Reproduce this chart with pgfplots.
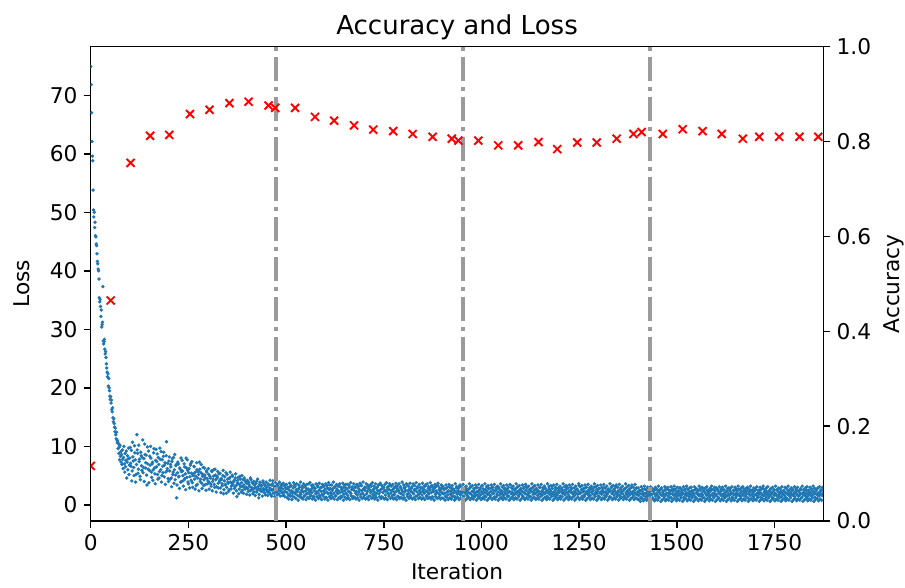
\documentclass[border=0pt]{standalone}
\usepackage{fontspec}
\setmainfont{DejaVu Sans}
\usepackage{pgfplots}
\pgfplotsset{compat=1.18}
\definecolor{mplblue}{HTML}{1F77B4}
\definecolor{vgray}{RGB}{155,155,155}
\begin{document}
\begin{tikzpicture}
\pgfplotsset{
  every axis/.append style={
    width=388.3pt, height=251.4pt, scale only axis,
    xmin=0, xmax=1875,
    axis line style={line width=0.8pt},
    every tick/.style={line width=0.8pt, black},
    major tick length=3.5pt,
    tick align=outside,
    clip marker paths=true,
    /pgf/number format/assume math mode=true,
    /pgf/number format/1000 sep={},
    tick label style={font=\fontsize{11.5}{13}\selectfont},
    label style={font=\fontsize{11.5}{13}\selectfont},
  },
  lossmark/.style={only marks, color=mplblue, mark=*, mark size=0.7pt, mark options={draw=none, fill=mplblue}},
  epochline/.style={vgray, line width=2pt, dash pattern=on 12.8pt off 3.2pt on 2pt off 3.2pt},
}
\begin{axis}[
  xtick pos=bottom, ytick pos=left,
  ymin=-2.75, ymax=78.3,
  xtick={0,250,...,1750},
  ytick={0,10,...,70},
  xlabel={Iteration}, ylabel={Loss},
  xlabel style={yshift=0.5pt},
  ylabel shift=4pt,
  title={Accuracy and Loss},
  title style={font=\fontsize{13.8}{16}\selectfont, yshift=-6pt},
]
\addplot[lossmark] coordinates {
(0,74.9)(1,71.8)(2,67.0)(3,62.1)(4,59.6)(5,58.8)(6,53.8)(7,50.4)(8,49.2)(9,50.0)
(10,47.4)(11,48.3)(12,46.0)(13,45.8)(14,44.6)(15,44.3)(16,42.9)(17,41.6)(18,41.2)(19,40.3)
(20,40.0)(21,38.6)(22,35.4)(23,34.7)(24,35.1)(25,33.9)(26,32.2)(27,33.3)(28,30.4)(29,30.8)
(30,31.2)(31,37.3)(32,28.0)(33,27.5)(34,27.9)(35,28.3)(36,26.6)(37,25.8)(38,26.2)(39,25.2)
(40,24.1)(41,23.4)(42,22.7)(43,21.9)(44,22.4)(45,20.3)(46,21.6)(47,20.0)(48,19.5)(49,18.6)
(50,18.0)(51,18.5)(52,17.4)(53,17.9)(54,16.3)(55,15.9)(56,16.6)(57,14.9)(58,14.2)(59,14.7)
(60,13.9)(61,13.3)(62,12.5)(63,13.1)(64,12.0)(65,11.3)(66,12.4)(67,11.1)(68,10.6)(69,10.9)
(70,9.6)(71,10.5)(72,8.8)(73,9.9)(74,7.7)(75,10.2)(76,8.3)(77,9.1)(78,7.3)(79,8.6)
(80,6.9)(81,9.4)(82,7.8)(83,6.2)(84,8.1)(85,10.0)(86,7.0)(87,5.6)(88,8.8)(89,6.5)
(90,7.6)(91,9.2)(92,4.6)(93,7.3)(94,8.4)(95,6.0)(96,7.9)(97,9.7)(98,5.2)(99,6.8)(100,8.0)
(102,7.1)(104,9.3)(106,5.8)(108,8.2)(110,6.4)(112,10.1)(114,7.7)(116,5.2)(118,12.0)(120,8.8)
(122,6.1)(124,7.4)(126,4.9)(128,9.0)(130,6.7)(132,8.1)(134,5.5)(136,7.9)(138,10.4)(140,6.3)
(142,8.5)(144,3.4)(146,7.0)(148,9.2)(150,5.9)(152,6.8)(154,8.0)(156,4.7)(158,7.3)(160,6.0)
(162,9.6)(164,5.3)(166,7.6)(168,6.5)(170,8.7)(172,4.4)(174,6.9)(176,5.7)(178,7.8)(180,9.1)
(182,5.0)(184,6.6)(186,8.3)(188,4.8)(190,7.2)(192,5.6)(194,10.8)(196,6.2)(198,4.5)(200,7.5)
(202,5.8)(204,6.9)(206,4.6)(208,7.4)(210,5.2)(212,8.1)(214,6.0)(216,4.3)(218,6.7)(220,1.2)
(222,5.5)(224,7.0)(226,4.9)(228,6.3)(230,3.9)(232,5.7)(234,7.6)(236,5.0)(238,4.2)(240,6.5)
(242,5.3)(244,8.0)(246,4.7)(248,5.9)(250,3.6)(252,6.2)(254,4.8)(256,7.1)(258,5.4)(260,3.8)
(262,5.0)(264,6.6)(266,4.4)(268,5.6)(270,3.3)(272,6.0)(274,4.6)(276,5.2)(278,7.3)(280,4.0)
(282,5.5)(284,3.7)(286,4.9)(288,6.4)(290,4.3)(292,5.1)(294,3.5)(296,5.8)(298,4.5)(300,4.1)
(302,5.2)(304,3.8)(306,4.6)(308,3.2)(310,5.7)(312,4.0)(314,4.9)(316,3.5)(318,6.1)(320,4.3)
(322,3.1)(324,4.8)(326,3.7)(328,5.3)(330,4.2)(332,2.9)(334,4.5)(336,3.6)(338,5.0)(340,1.9)
(342,4.1)(344,3.4)(346,5.5)(348,3.0)(350,4.4)(352,3.7)(354,2.6)(356,4.7)(358,3.9)(360,3.2)
(362,5.1)(364,3.5)(366,4.0)(368,2.8)(370,4.6)(372,3.3)(374,1.4)(376,4.2)(378,3.6)(380,2.7)
(382,4.9)(384,3.1)(386,3.8)(388,2.5)(390,4.3)(392,3.4)(394,2.9)(396,4.1)(398,3.0)(400,3.7)
(402,2.8)(404,3.9)(406,3.2)(408,2.4)(410,4.3)(412,3.0)(414,2.6)(416,3.6)(418,2.2)(420,3.4)
(422,2.9)(424,4.0)(426,2.5)(428,3.1)(430,1.2)(432,3.5)(434,2.7)(436,3.2)(438,2.3)(440,3.8)
(442,2.8)(444,2.1)(446,3.3)(448,2.6)(450,3.0)(452,2.2)(454,3.6)(456,2.4)(458,2.9)(460,1.8)
(462,3.4)(464,2.5)(466,4.1)(468,2.7)(470,2.0)(472,3.1)(474,2.6)(476,2.2)(478,3.3)(480,2.8)
(482,1.9)(484,3.0)(486,2.4)(488,3.5)(490,2.1)(492,2.7)(494,1.7)(496,3.2)(498,2.3)(500,2.8)
(502,2.1)(504,2.8)(506,1.7)(508,2.5)(510,3.1)(512,2.0)(514,2.4)(516,1.5)(518,2.9)(520,2.2)
(522,3.4)(524,1.9)(526,2.6)(528,2.3)(530,1.6)(532,2.7)(534,3.0)(536,2.1)(538,1.8)(540,2.5)
(542,2.9)(544,2.2)(546,1.4)(548,3.2)(550,2.4)(552,1.9)(554,2.7)(556,2.0)(558,3.6)(560,2.3)
(562,1.7)(564,2.6)(566,2.1)(568,3.0)(570,1.5)(572,2.4)(574,2.8)(576,1.9)(578,2.2)(580,3.3)
(582,2.0)(584,2.5)(586,1.6)(588,2.9)(590,2.3)(592,1.8)(594,3.1)(596,2.4)(598,2.0)(600,2.7)
(602,1.3)(604,2.2)(606,2.9)(608,1.9)(610,2.6)(612,3.4)(614,2.1)(616,1.7)(618,2.5)(620,2.8)
(622,2.0)(624,3.0)(626,1.6)(628,2.3)(630,2.7)(632,1.9)(634,2.4)(636,3.2)(638,2.1)(640,1.5)
(642,2.6)(644,2.2)(646,2.9)(648,1.8)(650,2.4)(652,3.5)(654,2.0)(656,2.7)(658,1.6)(660,2.3)
(662,3.0)(664,2.1)(666,1.9)(668,2.6)(670,2.8)(672,1.4)(674,2.5)(676,3.1)(678,2.0)(680,2.3)
(682,1.7)(684,2.9)(686,2.2)(688,2.6)(690,1.8)(692,3.3)(694,2.4)(696,2.0)(698,2.7)(700,1.6)
(702,2.5)(704,3.0)(706,1.9)(708,2.3)(710,2.8)(712,1.5)(714,2.6)(716,2.1)(718,3.2)(720,2.4)
(722,1.8)(724,2.7)(726,2.2)(728,1.6)(730,2.9)(732,2.0)(734,2.5)(736,3.4)(738,1.9)(740,2.3)
(742,2.6)(744,1.4)(746,2.8)(748,2.1)(750,3.0)(752,2.4)(754,1.7)(756,2.5)(758,2.2)(760,2.9)
(762,1.9)(764,2.6)(766,3.3)(768,2.0)(770,2.4)(772,1.6)(774,2.7)(776,2.2)(778,1.8)(780,3.1)
(782,2.3)(784,2.8)(786,1.5)(788,2.5)(790,2.1)(792,3.0)(794,1.9)(796,2.6)(798,2.3)(800,1.7)
(802,2.9)(804,2.2)(806,2.5)(808,3.6)(810,1.8)(812,2.4)(814,2.0)(816,2.7)(818,1.6)(820,2.3)
(822,3.1)(824,2.1)(826,1.9)(828,2.6)(830,2.4)(832,1.5)(834,2.8)(836,2.2)(838,3.0)(840,1.8)
(842,2.5)(844,2.1)(846,2.9)(848,1.7)(850,2.3)(852,2.7)(854,2.0)(856,3.2)(858,2.4)(860,1.6)
(862,2.2)(864,2.8)(866,1.9)(868,2.5)(870,3.0)(872,2.1)(874,1.4)(876,2.6)(878,2.3)(880,2.9)
(882,1.8)(884,2.4)(886,2.1)(888,3.3)(890,2.0)(892,2.6)(894,1.7)(896,2.3)(898,2.8)(900,2.0)
(902,1.9)(904,2.6)(906,2.0)(908,1.5)(910,2.8)(912,2.2)(914,1.7)(916,2.4)(918,3.1)(920,1.9)
(922,2.3)(924,1.6)(926,2.7)(928,2.0)(930,2.5)(932,1.4)(934,2.2)(936,2.9)(938,1.8)(940,2.4)
(942,2.1)(944,3.2)(946,1.7)(948,2.3)(950,2.0)(952,2.6)(954,1.5)(956,2.2)(958,2.8)(960,1.9)
(962,2.4)(964,1.6)(966,2.1)(968,2.7)(970,2.0)(972,3.0)(974,1.8)(976,2.3)(978,1.5)(980,2.5)
(982,2.1)(984,1.8)(986,2.9)(988,2.2)(990,1.6)(992,2.4)(994,2.0)(996,2.7)(998,1.7)(1000,2.3)
(1002,3.3)(1004,1.9)(1006,2.2)(1008,1.5)(1010,2.6)(1012,2.0)(1014,2.4)(1016,1.8)(1018,2.8)(1020,2.1)
(1022,1.6)(1024,2.3)(1026,2.9)(1028,1.9)(1030,2.5)(1032,2.0)(1034,1.4)(1036,2.4)(1038,2.7)(1040,1.8)
(1042,2.2)(1044,3.0)(1046,1.7)(1048,2.1)(1050,2.5)(1052,1.9)(1054,2.3)(1056,1.6)(1058,2.8)(1060,2.0)
(1062,2.4)(1064,1.8)(1066,2.6)(1068,2.1)(1070,1.5)(1072,2.3)(1074,3.4)(1076,1.9)(1078,2.2)(1080,2.7)
(1082,1.7)(1084,2.0)(1086,2.5)(1088,1.9)(1090,2.9)(1092,2.2)(1094,1.6)(1096,2.4)(1098,2.0)(1100,2.6)
(1102,1.8)(1104,2.3)(1106,1.5)(1108,2.8)(1110,2.1)(1112,1.9)(1114,2.5)(1116,3.1)(1118,1.7)(1120,2.2)
(1122,2.0)(1124,2.6)(1126,1.4)(1128,2.3)(1130,2.9)(1132,1.8)(1134,2.1)(1136,2.5)(1138,1.9)(1140,2.7)
(1142,2.2)(1144,1.6)(1146,2.4)(1148,2.0)(1150,3.0)(1152,1.8)(1154,2.3)(1156,1.7)(1158,2.6)(1160,2.1)
(1162,1.9)(1164,2.8)(1166,2.2)(1168,1.5)(1170,2.4)(1172,2.0)(1174,2.7)(1176,1.8)(1178,2.3)(1180,3.2)
(1182,1.9)(1184,2.1)(1186,1.6)(1188,2.5)(1190,2.0)(1192,2.8)(1194,1.7)(1196,2.3)(1198,2.1)(1200,2.6)
(1202,1.5)(1204,2.2)(1206,2.9)(1208,1.9)(1210,2.4)(1212,2.0)(1214,1.7)(1216,2.6)(1218,2.2)(1220,3.0)
(1222,1.8)(1224,2.3)(1226,1.4)(1228,2.5)(1230,2.1)(1232,2.8)(1234,1.9)(1236,2.2)(1238,1.6)(1240,2.4)
(1242,2.0)(1244,2.7)(1246,1.8)(1248,2.3)(1250,3.3)(1252,1.9)(1254,2.1)(1256,2.6)(1258,1.5)(1260,2.2)
(1262,2.4)(1264,1.7)(1266,2.9)(1268,2.0)(1270,2.3)(1272,1.8)(1274,2.5)(1276,2.1)(1278,1.6)(1280,2.7)
(1282,2.2)(1284,1.9)(1286,2.4)(1288,3.0)(1290,1.7)(1292,2.1)(1294,2.6)(1296,1.9)(1298,2.3)(1300,1.5)
(1302,2.8)(1304,2.0)(1306,2.2)(1308,1.8)(1310,2.5)(1312,2.1)(1314,2.9)(1316,1.6)(1318,2.3)(1320,2.0)
(1322,1.8)(1324,2.6)(1326,2.2)(1328,1.4)(1330,2.4)(1332,2.9)(1334,1.9)(1336,2.1)(1338,2.5)(1340,1.7)
(1342,2.3)(1344,3.1)(1346,2.0)(1348,1.8)(1350,2.4)(1352,2.2)(1354,1.6)(1356,2.7)(1358,2.0)(1360,2.3)
(1362,1.9)(1364,2.5)(1366,1.5)(1368,2.8)(1370,2.1)(1372,1.8)(1374,2.4)(1376,2.0)(1378,2.6)(1380,1.7)
(1382,2.2)(1384,3.0)(1386,1.9)(1388,2.3)(1390,1.6)(1392,2.5)(1394,2.0)(1396,2.8)(1398,1.8)(1400,2.2)
(1402,1.6)(1404,2.3)(1406,1.9)(1408,1.3)(1410,2.5)(1412,1.8)(1414,2.1)(1416,1.5)(1418,2.7)(1420,1.9)
(1422,1.4)(1424,2.2)(1426,1.7)(1428,2.9)(1430,2.0)(1432,1.6)(1434,2.4)(1436,1.8)(1438,1.2)(1440,2.3)
(1442,1.9)(1444,2.6)(1446,1.5)(1448,2.0)(1450,1.7)(1452,2.4)(1454,1.3)(1456,2.1)(1458,1.8)(1460,2.8)
(1462,1.6)(1464,2.2)(1466,1.9)(1468,1.4)(1470,2.5)(1472,1.7)(1474,2.0)(1476,2.7)(1478,1.5)(1480,2.1)
(1482,1.8)(1484,2.4)(1486,1.2)(1488,1.9)(1490,2.3)(1492,1.6)(1494,2.6)(1496,1.8)(1498,2.1)(1500,1.4)
(1502,2.2)(1504,1.7)(1506,2.9)(1508,1.9)(1510,1.5)(1512,2.3)(1514,1.8)(1516,2.0)(1518,1.3)(1520,2.5)
(1522,1.7)(1524,2.1)(1526,1.6)(1528,2.7)(1530,1.9)(1532,1.4)(1534,2.2)(1536,1.8)(1538,2.4)(1540,1.5)
(1542,2.0)(1544,1.7)(1546,2.6)(1548,1.3)(1550,2.1)(1552,1.9)(1554,2.3)(1556,1.6)(1558,1.8)(1560,2.8)
(1562,1.5)(1564,2.0)(1566,1.7)(1568,2.4)(1570,1.2)(1572,2.2)(1574,1.9)(1576,1.6)(1578,2.5)(1580,1.8)
(1582,2.1)(1584,1.4)(1586,2.3)(1588,1.7)(1590,2.6)(1592,1.9)(1594,1.5)(1596,2.0)(1598,2.4)(1600,1.6)
(1602,1.8)(1604,2.7)(1606,1.3)(1608,2.1)(1610,1.9)(1612,2.3)(1614,1.6)(1616,1.8)(1618,2.5)(1620,1.4)
(1622,2.0)(1624,1.7)(1626,2.2)(1628,1.5)(1630,2.8)(1632,1.9)(1634,1.6)(1636,2.4)(1638,1.8)(1640,2.1)
(1642,1.3)(1644,2.0)(1646,1.7)(1648,2.5)(1650,1.9)(1652,1.5)(1654,2.2)(1656,1.8)(1658,2.6)(1660,1.6)
(1662,2.0)(1664,1.4)(1666,2.3)(1668,1.7)(1670,1.9)(1672,2.7)(1674,1.5)(1676,2.1)(1678,1.8)(1680,2.4)
(1682,1.2)(1684,1.9)(1686,2.2)(1688,1.6)(1690,2.5)(1692,1.8)(1694,2.0)(1696,1.4)(1698,2.3)(1700,1.7)
(1702,2.6)(1704,1.9)(1706,1.5)(1708,2.1)(1710,1.8)(1712,2.4)(1714,1.3)(1716,2.0)(1718,1.7)(1720,2.8)
(1722,1.6)(1724,2.2)(1726,1.9)(1728,1.4)(1730,2.3)(1732,1.8)(1734,2.0)(1736,1.5)(1738,2.5)(1740,1.7)
(1742,2.1)(1744,1.3)(1746,1.9)(1748,2.4)(1750,1.6)(1752,2.0)(1754,1.8)(1756,2.6)(1758,1.5)(1760,2.2)
(1762,1.7)(1764,1.9)(1766,2.3)(1768,1.4)(1770,2.0)(1772,1.8)(1774,2.5)(1776,1.6)(1778,2.1)(1780,1.2)
(1782,1.9)(1784,2.4)(1786,1.7)(1788,2.0)(1790,1.5)(1792,2.2)(1794,1.8)(1796,2.7)(1798,1.6)(1800,2.0)
(1802,1.4)(1804,2.3)(1806,1.9)(1808,1.7)(1810,2.4)(1812,1.5)(1814,2.1)(1816,1.8)(1818,2.6)(1820,1.3)
(1822,2.0)(1824,1.7)(1826,2.2)(1828,1.6)(1830,1.9)(1832,2.5)(1834,1.4)(1836,2.1)(1838,1.8)(1840,2.3)
(1842,1.6)(1844,2.0)(1846,1.5)(1848,2.4)(1850,1.8)(1852,2.1)(1854,1.3)(1856,1.9)(1858,2.6)(1860,1.7)
(1862,2.0)(1864,1.5)(1866,2.2)(1868,1.8)(1870,2.4)(1872,1.6)(1874,1.9)
};
\addplot[lossmark] coordinates {
(101,9.8)(103,6.6)(105,4.1)(107,10.7)(109,7.5)(111,5.0)(113,8.9)(115,3.9)(117,6.9)(119,9.4)
(121,5.4)(123,10.2)(125,7.8)(127,4.3)(129,8.4)(131,5.9)(133,11.1)(135,6.4)(137,4.0)(139,8.6)
(141,7.2)(143,5.1)(145,9.9)(147,6.1)(149,3.8)(151,8.3)(153,10.0)(155,5.6)(157,7.0)(159,4.2)
(161,8.9)(163,6.3)(165,3.6)(167,9.5)(169,7.4)(171,5.2)(173,8.1)(175,4.6)(177,9.7)(179,6.0)
(181,3.9)(183,7.7)(185,5.5)(187,9.0)(189,6.8)(191,3.5)(193,8.4)(195,5.8)(197,7.1)(199,4.0)
(201,8.2)(203,4.4)(205,6.5)(207,3.1)(209,7.9)(211,5.6)(213,3.7)(215,8.6)(217,5.1)(219,6.9)
(221,3.4)(223,7.3)(225,4.8)(227,2.8)(229,6.1)(231,8.0)(233,4.0)(235,5.8)(237,3.2)(239,7.0)
(241,4.5)(243,2.6)(245,6.3)(247,7.7)(249,3.9)(251,5.5)(253,2.9)(255,6.8)(257,4.2)(259,7.4)
(261,3.0)(263,5.3)(265,6.5)(267,2.7)(269,4.9)(271,7.2)(273,3.5)(275,5.7)(277,2.4)(279,6.1)
(281,4.4)(283,6.9)(285,2.8)(287,5.2)(289,3.3)(291,6.3)(293,4.7)(295,2.5)(297,5.6)(299,3.6)
(301,6.2)(303,2.7)(305,4.9)(307,3.6)(309,5.8)(311,2.4)(313,4.4)(315,6.0)(317,3.0)(319,5.1)
(321,2.2)(323,4.6)(325,5.7)(327,2.9)(329,3.9)(331,5.4)(333,2.1)(335,4.3)(337,3.3)(339,5.9)
(341,2.6)(343,4.8)(345,3.5)(347,2.0)(349,5.2)(351,3.9)(353,2.3)(355,4.5)(357,5.6)(359,2.7)
(361,3.7)(363,4.9)(365,2.0)(367,4.2)(369,3.1)(371,5.3)(373,2.4)(375,3.8)(377,4.7)(379,1.9)
(381,3.5)(383,4.4)(385,2.2)(387,5.0)(389,3.2)(391,2.0)(393,4.6)(395,2.7)(397,3.9)(399,1.8)
(401,4.2)(403,2.3)(405,3.5)(407,1.7)(409,4.6)(411,2.6)(413,3.8)(415,1.9)(417,4.0)(419,2.9)
(421,1.6)(423,3.7)(425,2.2)(427,4.4)(429,2.8)(431,1.8)(433,3.9)(435,2.4)(437,3.3)(439,1.5)
(441,4.1)(443,2.6)(445,3.5)(447,1.7)(449,3.9)(451,2.5)(453,1.6)(455,3.4)(457,2.1)(459,4.2)
(461,2.7)(463,1.5)(465,3.6)(467,2.0)(469,3.2)(471,1.4)(473,3.8)(475,2.3)(477,1.7)(479,3.5)
(481,2.5)(483,3.9)(485,1.5)(487,2.9)(489,3.3)(491,1.6)(493,3.7)(495,2.2)(497,1.4)(499,3.4)
(501,3.5)(503,1.2)(505,3.0)(507,1.0)(509,3.7)(511,1.5)(513,3.3)(515,0.9)(517,2.0)(519,3.8)
(521,1.3)(523,3.1)(525,1.1)(527,3.6)(529,2.6)(531,0.8)(533,3.4)(535,1.4)(537,3.9)(539,1.2)
(541,3.2)(543,1.0)(545,3.6)(547,1.6)(549,3.0)(551,0.9)(553,3.5)(555,1.3)(557,2.7)(559,1.1)
(561,3.8)(563,1.5)(565,3.3)(567,1.0)(569,3.4)(571,1.2)(573,2.9)(575,0.8)(577,3.6)(579,1.4)
(581,3.1)(583,1.1)(585,3.7)(587,1.3)(589,3.0)(591,0.9)(593,3.5)(595,1.5)(597,3.2)(599,1.0)
(601,3.6)(603,1.2)(605,3.3)(607,0.8)(609,3.8)(611,1.4)(613,2.8)(615,1.1)(617,3.4)(619,1.3)
(621,3.9)(623,1.0)(625,3.1)(627,1.5)(629,3.5)(631,0.9)(633,3.2)(635,1.2)(637,3.6)(639,1.1)
(641,3.0)(643,1.4)(645,3.7)(647,0.8)(649,3.3)(651,1.3)(653,2.9)(655,1.0)(657,3.5)(659,1.2)
(661,3.4)(663,0.9)(665,3.8)(667,1.5)(669,3.1)(671,1.1)(673,3.6)(675,1.3)(677,3.0)(679,1.0)
(681,3.5)(683,1.2)(685,3.2)(687,0.8)(689,3.7)(691,1.4)(693,3.3)(695,1.1)(697,3.9)(699,1.3)
(701,3.0)(703,1.0)(705,3.6)(707,1.2)(709,3.4)(711,0.9)(713,3.1)(715,1.5)(717,3.5)(719,1.1)
(721,3.8)(723,1.3)(725,3.2)(727,1.0)(729,3.6)(731,1.2)(733,3.0)(735,0.8)(737,3.4)(739,1.4)
(741,3.7)(743,1.1)(745,3.3)(747,1.3)(749,2.9)(751,1.0)(753,3.5)(755,1.2)(757,3.8)(759,0.9)
(761,3.1)(763,1.5)(765,3.6)(767,1.1)(769,3.2)(771,1.3)(773,3.5)(775,1.0)(777,3.0)(779,1.2)
(781,3.7)(783,0.9)(785,3.3)(787,1.4)(789,3.6)(791,1.1)(793,3.1)(795,1.3)(797,3.9)(799,1.0)
(801,3.4)(803,1.2)(805,3.0)(807,0.8)(809,3.5)(811,1.4)(813,3.2)(815,1.1)(817,3.7)(819,1.3)
(821,2.9)(823,1.0)(825,3.6)(827,1.2)(829,3.3)(831,0.9)(833,3.8)(835,1.5)(837,3.1)(839,1.1)
(841,3.5)(843,1.3)(845,3.0)(847,1.0)(849,3.7)(851,1.2)(853,3.2)(855,0.9)(857,3.4)(859,1.4)
(861,3.6)(863,1.1)(865,3.1)(867,1.3)(869,3.8)(871,1.0)(873,3.3)(875,1.2)(877,3.0)(879,0.8)
(881,3.5)(883,1.4)(885,3.2)(887,1.1)(889,3.7)(891,1.3)(893,2.9)(895,1.0)(897,3.4)(899,1.2)
(901,3.2)(903,1.1)(905,2.8)(907,0.8)(909,3.4)(911,1.3)(913,3.0)(915,0.9)(917,3.5)(919,1.2)
(921,2.9)(923,1.0)(925,3.3)(927,1.4)(929,2.7)(931,0.8)(933,3.6)(935,1.1)(937,3.1)(939,1.3)
(941,2.8)(943,0.9)(945,3.4)(947,1.2)(949,3.0)(951,1.0)(953,3.5)(955,1.4)(957,2.9)(959,0.8)
(961,3.2)(963,1.1)(965,2.7)(967,1.3)(969,3.6)(971,0.9)(973,3.1)(975,1.2)(977,3.3)(979,1.0)
(981,2.8)(983,1.4)(985,3.4)(987,0.8)(989,3.0)(991,1.1)(993,3.5)(995,1.3)(997,2.9)(999,0.9)
(1001,3.2)(1003,1.2)(1005,2.7)(1007,1.0)(1009,3.6)(1011,1.4)(1013,3.1)(1015,0.8)(1017,3.3)(1019,1.1)
(1021,2.8)(1023,1.3)(1025,3.4)(1027,0.9)(1029,3.0)(1031,1.2)(1033,3.5)(1035,1.0)(1037,2.9)(1039,1.4)
(1041,3.2)(1043,0.8)(1045,2.7)(1047,1.1)(1049,3.6)(1051,1.3)(1053,3.1)(1055,0.9)(1057,3.3)(1059,1.2)
(1061,2.8)(1063,1.0)(1065,3.4)(1067,1.4)(1069,3.0)(1071,0.8)(1073,3.5)(1075,1.1)(1077,2.9)(1079,1.3)
(1081,3.2)(1083,0.9)(1085,2.7)(1087,1.2)(1089,3.6)(1091,1.0)(1093,3.1)(1095,1.4)(1097,3.3)(1099,0.8)
(1101,2.8)(1103,1.1)(1105,3.4)(1107,1.3)(1109,3.0)(1111,0.9)(1113,3.5)(1115,1.2)(1117,2.9)(1119,1.0)
(1121,3.2)(1123,1.4)(1125,2.7)(1127,0.8)(1129,3.6)(1131,1.1)(1133,3.1)(1135,1.3)(1137,3.3)(1139,0.9)
(1141,2.8)(1143,1.2)(1145,3.4)(1147,1.0)(1149,3.0)(1151,1.4)(1153,3.5)(1155,0.8)(1157,2.9)(1159,1.1)
(1161,3.2)(1163,1.3)(1165,2.7)(1167,0.9)(1169,3.6)(1171,1.2)(1173,3.1)(1175,1.0)(1177,3.3)(1179,1.4)
(1181,2.8)(1183,0.8)(1185,3.4)(1187,1.1)(1189,3.0)(1191,1.3)(1193,3.5)(1195,0.9)(1197,2.9)(1199,1.2)
(1201,3.2)(1203,1.0)(1205,2.7)(1207,1.4)(1209,3.6)(1211,0.8)(1213,3.1)(1215,1.1)(1217,3.3)(1219,1.3)
(1221,2.8)(1223,0.9)(1225,3.4)(1227,1.2)(1229,3.0)(1231,1.0)(1233,3.5)(1235,1.4)(1237,2.9)(1239,0.8)
(1241,3.2)(1243,1.1)(1245,2.7)(1247,1.3)(1249,3.6)(1251,0.9)(1253,3.1)(1255,1.2)(1257,3.3)(1259,1.0)
(1261,2.8)(1263,1.4)(1265,3.4)(1267,0.8)(1269,3.0)(1271,1.1)(1273,3.5)(1275,1.3)(1277,2.9)(1279,0.9)
(1281,3.2)(1283,1.2)(1285,2.7)(1287,1.0)(1289,3.6)(1291,1.4)(1293,3.1)(1295,0.8)(1297,3.3)(1299,1.1)
(1301,2.8)(1303,1.3)(1305,3.4)(1307,0.9)(1309,3.0)(1311,1.2)(1313,3.5)(1315,1.0)(1317,2.9)(1319,1.4)
(1321,3.2)(1323,0.8)(1325,2.7)(1327,1.1)(1329,3.6)(1331,1.3)(1333,3.1)(1335,0.9)(1337,3.3)(1339,1.2)
(1341,2.8)(1343,1.0)(1345,3.4)(1347,1.4)(1349,3.0)(1351,0.8)(1353,3.5)(1355,1.1)(1357,2.9)(1359,1.3)
(1361,3.2)(1363,0.9)(1365,2.7)(1367,1.2)(1369,3.6)(1371,1.0)(1373,3.1)(1375,1.4)(1377,3.3)(1379,0.8)
(1381,2.8)(1383,1.1)(1385,3.4)(1387,1.3)(1389,3.0)(1391,0.9)(1393,3.5)(1395,1.2)(1397,2.9)(1399,1.0)
(1401,2.9)(1403,0.9)(1405,2.5)(1407,0.6)(1409,3.1)(1411,1.1)(1413,2.7)(1415,0.7)(1417,3.2)(1419,1.0)
(1421,2.6)(1423,0.8)(1425,3.0)(1427,1.2)(1429,2.4)(1431,0.6)(1433,3.1)(1435,0.9)(1437,2.8)(1439,1.1)
(1441,2.5)(1443,0.7)(1445,3.0)(1447,1.0)(1449,2.7)(1451,0.8)(1453,3.2)(1455,1.2)(1457,2.6)(1459,0.6)
(1461,2.9)(1463,0.9)(1465,2.4)(1467,1.1)(1469,3.1)(1471,0.7)(1473,2.8)(1475,1.0)(1477,3.0)(1479,0.8)
(1481,2.5)(1483,1.2)(1485,3.1)(1487,0.6)(1489,2.7)(1491,0.9)(1493,3.2)(1495,1.1)(1497,2.6)(1499,0.7)
(1501,3.0)(1503,1.0)(1505,2.4)(1507,0.8)(1509,2.9)(1511,1.2)(1513,2.6)(1515,0.6)(1517,3.1)(1519,0.9)
(1521,2.7)(1523,1.1)(1525,3.2)(1527,0.7)(1529,2.5)(1531,1.0)(1533,2.9)(1535,0.8)(1537,3.0)(1539,1.2)
(1541,2.4)(1543,0.6)(1545,3.1)(1547,0.9)(1549,2.8)(1551,1.1)(1553,2.6)(1555,0.7)(1557,3.2)(1559,1.0)
(1561,2.5)(1563,0.8)(1565,3.0)(1567,1.2)(1569,2.7)(1571,0.6)(1573,2.9)(1575,0.9)(1577,3.1)(1579,1.1)
(1581,2.4)(1583,0.7)(1585,2.8)(1587,1.0)(1589,3.2)(1591,0.8)(1593,2.6)(1595,1.2)(1597,3.0)(1599,0.6)
(1601,2.9)(1603,0.9)(1605,2.5)(1607,1.1)(1609,3.1)(1611,0.7)(1613,2.7)(1615,1.0)(1617,3.0)(1619,0.8)
(1621,2.6)(1623,1.2)(1625,3.2)(1627,0.6)(1629,2.4)(1631,0.9)(1633,2.9)(1635,1.1)(1637,2.8)(1639,0.7)
(1641,3.1)(1643,1.0)(1645,2.5)(1647,0.8)(1649,3.0)(1651,1.2)(1653,2.7)(1655,0.6)(1657,3.2)(1659,0.9)
(1661,2.6)(1663,1.1)(1665,2.9)(1667,0.7)(1669,3.1)(1671,1.0)(1673,2.4)(1675,0.8)(1677,2.8)(1679,1.2)
(1681,3.0)(1683,0.6)(1685,2.7)(1687,0.9)(1689,3.2)(1691,1.1)(1693,2.5)(1695,0.7)(1697,2.9)(1699,1.0)
(1701,2.8)(1703,0.8)(1705,3.1)(1707,1.2)(1709,2.5)(1711,0.6)(1713,3.0)(1715,0.9)(1717,2.7)(1719,1.1)
(1721,3.2)(1723,0.7)(1725,2.6)(1727,1.0)(1729,2.9)(1731,0.8)(1733,3.1)(1735,1.2)(1737,2.4)(1739,0.6)
(1741,2.8)(1743,0.9)(1745,3.0)(1747,1.1)(1749,2.6)(1751,0.7)(1753,3.2)(1755,1.0)(1757,2.5)(1759,0.8)
(1761,2.9)(1763,1.2)(1765,2.7)(1767,0.6)(1769,3.1)(1771,0.9)(1773,2.4)(1775,1.1)(1777,3.0)(1779,0.7)
(1781,2.8)(1783,1.0)(1785,3.2)(1787,0.8)(1789,2.6)(1791,1.2)(1793,2.9)(1795,0.6)(1797,2.5)(1799,0.9)
(1801,3.1)(1803,1.1)(1805,2.7)(1807,0.7)(1809,3.0)(1811,1.0)(1813,2.4)(1815,0.8)(1817,2.8)(1819,1.2)
(1821,3.2)(1823,0.6)(1825,2.6)(1827,0.9)(1829,2.9)(1831,1.1)(1833,3.1)(1835,0.7)(1837,2.5)(1839,1.0)
(1841,3.0)(1843,0.8)(1845,2.7)(1847,1.2)(1849,3.2)(1851,0.6)(1853,2.8)(1855,0.9)(1857,2.4)(1859,1.1)
(1861,2.9)(1863,0.7)(1865,3.1)(1867,1.0)(1869,2.6)(1871,0.8)(1873,3.0)
};
\addplot[epochline] coordinates {(474,-2.75)(474,78.3)};
\addplot[epochline] coordinates {(953,-2.75)(953,78.3)};
\addplot[epochline] coordinates {(1431,-2.75)(1431,78.3)};
\end{axis}
\begin{axis}[
  hide x axis,
  axis y line*=right,
  ymin=0, ymax=1,
  ytick={0,0.2,0.4,0.6,0.8,1.0},
  yticklabel style={/pgf/number format/.cd, fixed, fixed zerofill, precision=1},
  ylabel={Accuracy},
]
\addplot[only marks, mark=x, mark size=3pt, red, mark options={line width=1pt}] coordinates {
(0,0.116)(51,0.465)(102,0.755)(152,0.812)(201,0.814)(254,0.858)(304,0.867)(355,0.881)(404,0.884)(455,0.876)
(472,0.871)(523,0.871)(574,0.852)(623,0.844)(674,0.834)(723,0.825)(774,0.822)(824,0.816)(875,0.810)(924,0.806)
(941,0.802)(992,0.802)(1043,0.792)(1094,0.792)(1146,0.799)(1194,0.784)(1245,0.798)(1295,0.798)(1346,0.806)(1389,0.816)
(1410,0.820)(1464,0.816)(1515,0.826)(1566,0.822)(1615,0.816)(1669,0.806)(1711,0.810)(1762,0.810)(1814,0.810)(1862,0.810)
};
\end{axis}
\pgfresetboundingbox
\path[use as bounding box] ([shift={(-48.1pt,-35pt)}]current axis.south west) rectangle ([shift={(43.3pt,24.75pt)}]current axis.north east);
\end{tikzpicture}
\end{document}
